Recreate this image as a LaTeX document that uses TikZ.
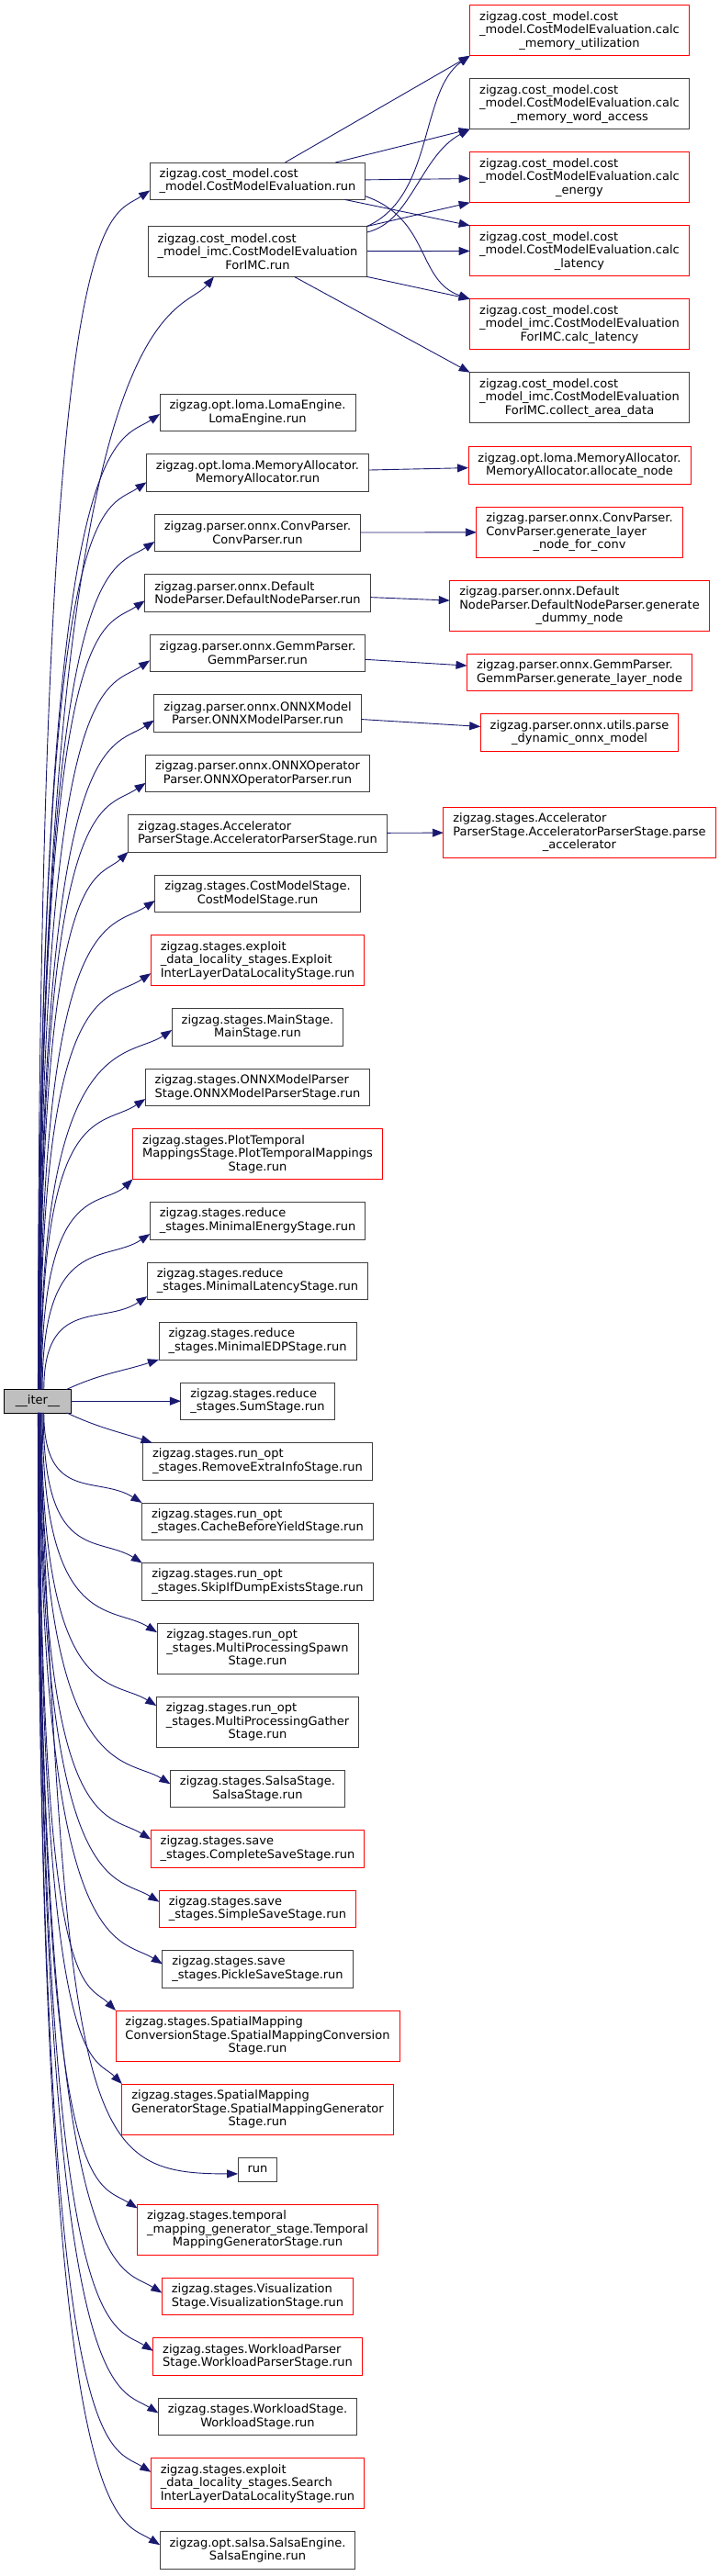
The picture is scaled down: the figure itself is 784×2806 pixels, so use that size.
\documentclass[tikz,border=0pt]{standalone}
\usepackage{fontspec}
\setmainfont{DejaVu Sans}
\usepackage{xcolor}
\usepackage{tikz}
\usetikzlibrary{arrows.meta,positioning}
\definecolor{edgeblue}{RGB}{25,25,112}
\definecolor{grey25}{RGB}{64,64,64}
\definecolor{grey75}{RGB}{191,191,191}
\newcommand{\graphfont}{\fontsize{13pt}{14.5pt}\selectfont}
\tikzset{
    fn/.style={
        rectangle,
        draw=grey25,
        fill=white,
        line width=0.9pt,
        outer sep=0pt,
        align=left,
        inner xsep=10.5pt,
        inner ysep=2pt,
        minimum height=40.5pt,
        font=\graphfont
    },
    fn3/.style={fn, minimum height=55pt},
    nodoc/.style={fn, draw=red},
    nodoc3/.style={fn3, draw=red},
    root/.style={fn, draw=black, fill=grey75, align=center,
        minimum height=25.5pt, minimum width=72.5pt},
    call/.style={draw=edgeblue, line width=0.9pt, -{Triangle[length=12pt,width=9pt]}},
    fanup/.style={to path={.. controls (\tikztostart |- \tikztotarget)
        and ([shift={(#1)}]\tikztotarget) .. (\tikztotarget)}},
    fanup/.default={-48pt,-32pt},
    fandown/.style={fanup={#1}},
    fandown/.default={-48pt,30pt}
}

\begin{document}
\begin{tikzpicture}[node distance=25pt]
        \useasboundingbox (0,0) rectangle (784pt,-2806pt);

        \node[fn] (cmerun) at (280.5pt,-197.2pt)
            {zigzag.cost\_model.cost\\\hfil\_model.CostModelEvaluation.run};
        \node[fn3, below=29pt of cmerun] (imcrun)
            {zigzag.cost\_model.cost\\\_model\_imc.CostModelEvaluation\\\hfil ForIMC.run};
        \node[fn, below=127.5pt of imcrun] (loma)
            {zigzag.opt.loma.LomaEngine.\\\hfil LomaEngine.run};
        \node[fn, below=of loma] (memalloc)
            {zigzag.opt.loma.MemoryAllocator.\\\hfil MemoryAllocator.run};
        \node[fn, below=of memalloc] (convparser)
            {zigzag.parser.onnx.ConvParser.\\\hfil ConvParser.run};
        \node[fn, below=of convparser] (defparser)
            {zigzag.parser.onnx.Default\\\hfil NodeParser.DefaultNodeParser.run};
        \node[fn, below=of defparser] (gemmparser)
            {zigzag.parser.onnx.GemmParser.\\\hfil GemmParser.run};
        \node[fn, below=of gemmparser] (modelparser)
            {zigzag.parser.onnx.ONNXModel\\\hfil Parser.ONNXModelParser.run};
        \node[fn, below=of modelparser] (opparser)
            {zigzag.parser.onnx.ONNXOperator\\\hfil Parser.ONNXOperatorParser.run};
        \node[fn, below=of opparser] (accstage)
            {zigzag.stages.Accelerator\\\hfil ParserStage.AcceleratorParserStage.run};
        \node[fn, below=of accstage] (coststage)
            {zigzag.stages.CostModelStage.\\\hfil CostModelStage.run};
        \node[nodoc3, below=of coststage] (exploit)
            {zigzag.stages.exploit\\\_data\_locality\_stages.Exploit\\\hfil InterLayerDataLocalityStage.run};
        \node[fn, below=of exploit] (mainstage)
            {zigzag.stages.MainStage.\\\hfil MainStage.run};
        \node[fn, below=of mainstage] (onnxstage)
            {zigzag.stages.ONNXModelParser\\\hfil Stage.ONNXModelParserStage.run};
        \node[nodoc3, below=of onnxstage] (plotstage)
            {zigzag.stages.PlotTemporal\\MappingsStage.PlotTemporalMappings\\\hfil Stage.run};
        \node[fn, below=of plotstage] (minenergy)
            {zigzag.stages.reduce\\\hfil\_stages.MinimalEnergyStage.run};
        \node[fn, below=of minenergy] (minlatency)
            {zigzag.stages.reduce\\\hfil\_stages.MinimalLatencyStage.run};
        \node[fn, below=of minlatency] (minedp)
            {zigzag.stages.reduce\\\hfil\_stages.MinimalEDPStage.run};
        \node[fn, below=of minedp] (sumstage)
            {zigzag.stages.reduce\\\hfil\_stages.SumStage.run};
        \node[fn, below=of sumstage] (removeinfo)
            {zigzag.stages.run\_opt\\\hfil\_stages.RemoveExtraInfoStage.run};
        \node[fn, below=of removeinfo] (cachestage)
            {zigzag.stages.run\_opt\\\hfil\_stages.CacheBeforeYieldStage.run};
        \node[fn, below=of cachestage] (skipstage)
            {zigzag.stages.run\_opt\\\hfil\_stages.SkipIfDumpExistsStage.run};
        \node[fn3, below=of skipstage] (spawnstage)
            {zigzag.stages.run\_opt\\\_stages.MultiProcessingSpawn\\\hfil Stage.run};
        \node[fn3, below=of spawnstage] (gatherstage)
            {zigzag.stages.run\_opt\\\_stages.MultiProcessingGather\\\hfil Stage.run};
        \node[fn, below=of gatherstage] (salsastage)
            {zigzag.stages.SalsaStage.\\\hfil SalsaStage.run};
        \node[nodoc, below=of salsastage] (completesave)
            {zigzag.stages.save\\\hfil\_stages.CompleteSaveStage.run};
        \node[nodoc, below=of completesave] (simplesave)
            {zigzag.stages.save\\\hfil\_stages.SimpleSaveStage.run};
        \node[fn, below=of simplesave] (picklesave)
            {zigzag.stages.save\\\hfil\_stages.PickleSaveStage.run};
        \node[nodoc3, below=of picklesave] (spconv)
            {zigzag.stages.SpatialMapping\\ConversionStage.SpatialMappingConversion\\\hfil Stage.run};
        \node[nodoc3, below=of spconv] (spgen)
            {zigzag.stages.SpatialMapping\\GeneratorStage.SpatialMappingGenerator\\\hfil Stage.run};
        \node[fn, below=of spgen, minimum height=26pt] (run)
            {run};
        \node[nodoc3, below=of run] (tmgen)
            {zigzag.stages.temporal\\\_mapping\_generator\_stage.Temporal\\\hfil MappingGeneratorStage.run};
        \node[nodoc, below=of tmgen] (visstage)
            {zigzag.stages.Visualization\\\hfil Stage.VisualizationStage.run};
        \node[nodoc, below=of visstage] (wlparser)
            {zigzag.stages.WorkloadParser\\\hfil Stage.WorkloadParserStage.run};
        \node[fn, below=of wlparser] (wlstage)
            {zigzag.stages.WorkloadStage.\\\hfil WorkloadStage.run};
        \node[nodoc3, below=of wlstage] (searchstage)
            {zigzag.stages.exploit\\\_data\_locality\_stages.Search\\\hfil InterLayerDataLocalityStage.run};
        \node[fn, below=of searchstage] (salsaengine)
            {zigzag.opt.salsa.SalsaEngine.\\\hfil SalsaEngine.run};

        \node[nodoc3] (memutil) at (631pt,-33.2pt)
            {zigzag.cost\_model.cost\\\_model.CostModelEvaluation.calc\\\hfil\_memory\_utilization};
        \node[fn3, below=of memutil] (memword)
            {zigzag.cost\_model.cost\\\_model.CostModelEvaluation.calc\\\hfil\_memory\_word\_access};
        \node[nodoc3, below=of memword] (energy)
            {zigzag.cost\_model.cost\\\_model.CostModelEvaluation.calc\\\hfil\_energy};
        \node[nodoc3, below=of energy] (latency)
            {zigzag.cost\_model.cost\\\_model.CostModelEvaluation.calc\\\hfil\_latency};
        \node[nodoc3, below=of latency] (imclat)
            {zigzag.cost\_model.cost\\\_model\_imc.CostModelEvaluation\\\hfil ForIMC.calc\_latency};
        \node[fn3, below=of imclat] (area)
            {zigzag.cost\_model.cost\\\_model\_imc.CostModelEvaluation\\\hfil ForIMC.collect\_area\_data};
        \node[nodoc, below=26pt of area] (allocnode)
            {zigzag.opt.loma.MemoryAllocator.\\\hfil MemoryAllocator.allocate\_node};
        \node[nodoc3, below=of allocnode] (convgen)
            {zigzag.parser.onnx.ConvParser.\\ConvParser.generate\_layer\\\hfil\_node\_for\_conv};
        \node[nodoc3, below=of convgen] (dummygen)
            {zigzag.parser.onnx.Default\\NodeParser.DefaultNodeParser.generate\\\hfil\_dummy\_node};
        \node[nodoc, below=of dummygen] (gemmgen)
            {zigzag.parser.onnx.GemmParser.\\\hfil GemmParser.generate\_layer\_node};
        \node[nodoc, below=of gemmgen] (dynonnx)
            {zigzag.parser.onnx.utils.parse\\\hfil\_dynamic\_onnx\_model};
        \node[nodoc3, below=61pt of dynonnx] (parseacc)
            {zigzag.stages.Accelerator\\ParserStage.AcceleratorParserStage.parse\\\hfil\_accelerator};

        \node[root] (iter) at (41pt,0 |- sumstage) {\_\_iter\_\_};

        \draw[call] (iter.88) to[fanup] (cmerun.185);
        \draw[call] (iter.87) to[fanup={-38pt,-46pt}] (imcrun.210);
        \draw[call] (iter.87) to[fanup] (loma.181);
        \draw[call] (iter.86) to[fanup] (memalloc.185);
        \draw[call] (iter.85) to[fanup] (convparser.185);
        \draw[call] (iter.84) to[fanup] (defparser.184);
        \draw[call] (iter.83) to[fanup] (gemmparser.184);
        \draw[call] (iter.82) to[fanup] (modelparser.184);
        \draw[call] (iter.81) to[fanup] (opparser.185);
        \draw[call] (iter.80) to[fanup={-34pt,-32pt}] (accstage.south west);
        \draw[call] (iter.79) to[fanup] (coststage.184);
        \draw[call] (iter.78) to[fanup] (exploit.187);
        \draw[call] (iter.76) to[fanup] (mainstage.182);
        \draw[call] (iter.74) to[fanup] (onnxstage.186);
        \draw[call] (iter.72) to[fanup={-34pt,-32pt}] (plotstage.south west);
        \draw[call] (iter.68) to[fanup] (minenergy.187);
        \draw[call] (iter.62) to[fanup] (minlatency.188);
        \draw[call] (iter.22) to[out=25, in=198] (minedp.south west);
        \draw[call] (iter) -- (sumstage);
        \draw[call] (iter.-22) to[out=-25, in=162] (removeinfo.170);
        \draw[call] (iter.-62) to[fandown] (cachestage.north west);
        \draw[call] (iter.-64) to[fandown] (skipstage.north west);
        \draw[call] (iter.-68) to[fandown] (spawnstage.171);
        \draw[call] (iter.-72) to[fandown] (gatherstage.171);
        \draw[call] (iter.-74) to[fandown] (salsastage.177);
        \draw[call] (iter.-76) to[fandown] (completesave.175);
        \draw[call] (iter.-78) to[fandown] (simplesave.176);
        \draw[call] (iter.-80) to[fandown] (picklesave.177);
        \draw[call] (iter.-81) to[fandown={-32pt,32pt}] (spconv.north west);
        \draw[call] (iter.-82) to[fandown={-32pt,32pt}] (spgen.north west);
        \draw[call] (iter.-83) .. controls +(30pt,-790pt) and +(-163pt,0pt) .. (run.193);
        \draw[call] (iter.-84) to[fandown] (tmgen.170);
        \draw[call] (iter.-85) to[fandown] (visstage.178);
        \draw[call] (iter.-86) to[fandown] (wlparser.177);
        \draw[call] (iter.-87) to[fandown] (wlstage.178);
        \draw[call] (iter.-88) to[fandown] (searchstage.174);
        \draw[call] (iter.-89) to[fandown] (salsaengine.177);

        \draw[call] ([xshift=30pt]cmerun.north) -- (memutil.south west);
        \draw[call] ([xshift=85pt]cmerun.north) -- (memword.south west);
        \draw[call] (cmerun) -- (energy);
        \draw[call] ([xshift=95pt]cmerun.south) -- (latency.north west);
        \draw[call] (cmerun.-8) .. controls +(71pt,-25pt) and +(-58pt,20pt) .. (imclat.north west);
        \draw[call] (imcrun.north east) .. controls +(73pt,33pt) and +(-55pt,-39pt) .. (memutil.south west);
        \draw[call] (imcrun.10) .. controls +(48pt,11pt) and +(-54pt,-29pt) .. (memword.south west);
        \draw[call] (imcrun.north east) -- (energy.south west);
        \draw[call] (imcrun) -- (latency);
        \draw[call] (imcrun.south east) -- (imclat.north west);
        \draw[call] ([xshift=40pt]imcrun.south) -- (area.north west);
        \draw[call] (memalloc) -- (allocnode);
        \draw[call] (convparser) -- (convgen);
        \draw[call] (defparser) -- (dummygen);
        \draw[call] (gemmparser) -- (gemmgen);
        \draw[call] (modelparser) -- (dynonnx);
        \draw[call] (accstage) -- (parseacc);
    \end{tikzpicture}
\end{document}
